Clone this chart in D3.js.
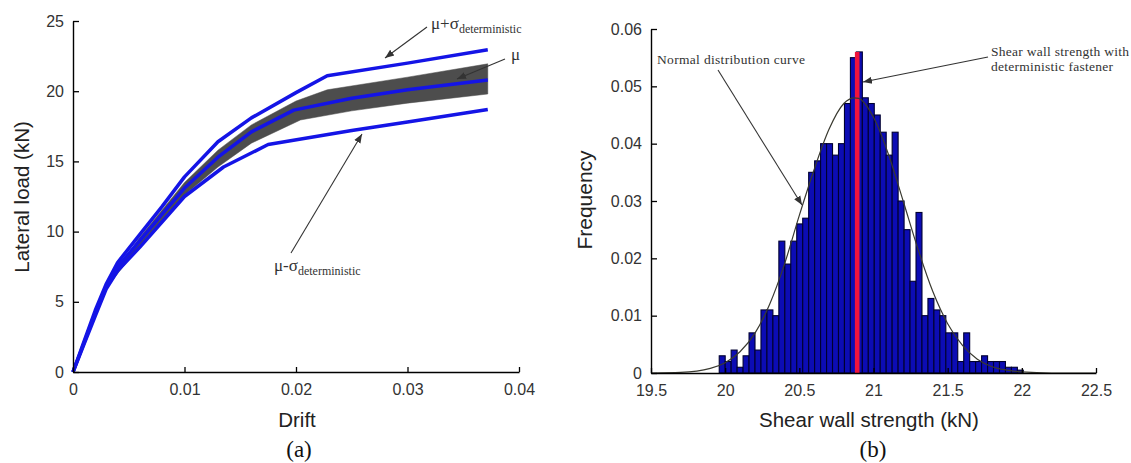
<!DOCTYPE html>
<html><head><meta charset="utf-8">
<script src="https://cdn.jsdelivr.net/npm/d3@7"></script>
<style>
body{margin:0;background:#fff}
svg{display:block}
.tick text{font-family:"Liberation Sans",Arial,sans-serif;font-size:16px;fill:#333}
.lbl{font-family:"Liberation Sans",Arial,sans-serif;font-size:20.5px;fill:#222}
.cap{font-family:"Liberation Serif","Times New Roman",serif;font-size:23px;fill:#111}
.ann{font-family:"Liberation Serif","Times New Roman",serif;fill:#333}
</style>
</head><body>
<svg id="c" width="1131" height="463"></svg>
<script>
// ---------- Panel (a): lateral load vs drift ----------
const driftTicks = [0, 0.01, 0.02, 0.03, 0.04];
const loadTicks = [0, 5, 10, 15, 20, 25];
const meanPlusSigma = [[0,0],[0.001,2.2],[0.002,4.4],[0.003,6.3],[0.004,7.8],[0.006,9.8],[0.008,11.8],[0.010,13.9],[0.013,16.4],[0.016,18.1],[0.020,19.9],[0.0228,21.1],[0.030,22.0],[0.0372,22.95]];
const meanCurve = [[0,0],[0.001,2.1],[0.002,4.2],[0.003,6.1],[0.004,7.5],[0.006,9.35],[0.008,11.25],[0.010,13.1],[0.013,15.3],[0.016,17.1],[0.0198,18.65],[0.025,19.5],[0.030,20.1],[0.0372,20.8]];
const meanMinusSigma = [[0,0],[0.001,2.0],[0.002,4.0],[0.003,5.95],[0.004,7.2],[0.006,8.9],[0.008,10.7],[0.010,12.5],[0.0135,14.6],[0.0175,16.2],[0.025,17.2],[0.030,17.8],[0.0372,18.7]];
const bandUpper = [[0,0],[0.003,6.3],[0.006,9.6],[0.010,13.5],[0.013,15.8],[0.016,17.6],[0.020,19.3],[0.0228,20.1],[0.030,21.0],[0.0372,21.95]];
const bandLower = [[0,0],[0.003,6.0],[0.006,9.0],[0.010,12.6],[0.013,14.6],[0.016,16.3],[0.0204,17.95],[0.025,18.6],[0.030,19.15],[0.0372,19.8]];

// ---------- Panel (b): histogram of shear wall strength ----------
const strengthTicks = [19.5, 20, 20.5, 21, 21.5, 22, 22.5];
const freqTicks = [0, 0.01, 0.02, 0.03, 0.04, 0.05, 0.06];
const binStart = 19.96;
const binWidth = 0.0402;
const binFreq = [0.003,0.002,0.004,0.001,0.003,0.007,0.004,0.011,0.011,0.010,
                 0.023,0.019,0.023,0.026,0.027,0.035,0.037,0.040,0.040,0.038,
                 0.040,0.047,0.055,0.056,0.048,0.047,0.045,0.042,0.038,0.042,
                 0.030,0.025,0.016,0.028,0.010,0.013,0.011,0.010,0.007,0.007,
                 0.002,0.007,0.002,0.002,0.003,0.002,0.002,0.002,0.001,0.001,0.0005];
const deterministicStrength = 20.89;
const deterministicFreq = 0.056;
const normalCurve = [[19.5,0.0000],[19.7,0.0001],[19.9,0.0008],[20.0,0.0018],[20.1,0.0037],[20.2,0.0069],[20.3,0.0120],[20.4,0.0190],[20.5,0.0275],[20.6,0.0355],[20.7,0.0425],[20.8,0.0470],[20.87,0.0480],[20.9,0.0479],[21.0,0.0446],[21.1,0.0382],[21.2,0.0300],[21.3,0.0216],[21.4,0.0142],[21.5,0.0086],[21.6,0.0048],[21.7,0.0024],[21.8,0.0011],[21.9,0.0005],[22.0,0.0002],[22.2,0.0000],[22.5,0.0000]];

const svg = d3.select("#c");
svg.append("rect").attr("width",1131).attr("height",463).attr("fill","#fff");

const defs = svg.append("defs");
defs.append("marker").attr("id","arr").attr("viewBox","0 0 10 10")
  .attr("refX",10).attr("refY",5).attr("markerWidth",9).attr("markerHeight",9)
  .attr("markerUnits","userSpaceOnUse").attr("orient","auto")
  .append("path").attr("d","M0,1 L10,5 L0,9 Z").attr("fill","#333");

// ----- panel a -----
const xA = d3.scaleLinear().domain([0,0.04]).range([73,519]);
const yA = d3.scaleLinear().domain([0,25]).range([372,21]);
const gA = svg.append("g");

const line = d3.line().x(d=>xA(d[0])).y(d=>yA(d[1]));
const poly = bandUpper.concat(bandLower.slice().reverse());
gA.append("path").attr("d", line(poly)+"Z").attr("fill","#4d4d4d").attr("stroke","#4d4d4d").attr("stroke-width",0.5);

[meanMinusSigma, meanPlusSigma, meanCurve].forEach(c=>{
  gA.append("path").attr("d", line(c)).attr("fill","none")
    .attr("stroke","#1414e6").attr("stroke-width",3.5).attr("stroke-linejoin","round");
});

const axA = gA.append("g").attr("transform",`translate(0,${yA(0)})`)
  .call(d3.axisBottom(xA).tickValues(driftTicks).tickFormat(d=>d===0?"0":d3.format(".2f")(d)).tickSizeInner(-5).tickSizeOuter(0).tickPadding(12));
const ayA = gA.append("g").attr("transform",`translate(${xA(0)},0)`)
  .call(d3.axisLeft(yA).tickValues(loadTicks).tickFormat(d3.format("d")).tickSizeInner(-6).tickSizeOuter(0).tickPadding(9));
[axA, ayA].forEach(a=>{a.selectAll("path.domain").attr("stroke","#000").attr("stroke-width",1.4);
  a.selectAll(".tick line").attr("stroke","#000").attr("stroke-width",1.3);});

gA.append("text").attr("class","lbl").attr("x",297).attr("y",427).attr("text-anchor","middle").text("Drift");
gA.append("text").attr("class","lbl").attr("transform","translate(29,197) rotate(-90)").attr("text-anchor","middle").text("Lateral load (kN)");
gA.append("text").attr("class","cap").attr("x",299).attr("y",457).attr("text-anchor","middle").text("(a)");

function annSigma(g,x,y,main){
  const t = g.append("text").attr("class","ann").attr("x",x).attr("y",y).style("font-size","17px");
  t.append("tspan").text(main);
  t.append("tspan").attr("dy",4).style("font-size","12px").text("deterministic");
}
annSigma(gA,431,29,"μ+σ");
annSigma(gA,274,271,"μ-σ");
gA.append("text").attr("class","ann").attr("x",511).attr("y",60).style("font-size","17px").text("μ");
function arrow(g,x1,y1,x2,y2){
  g.append("line").attr("x1",x1).attr("y1",y1).attr("x2",x2).attr("y2",y2)
   .attr("stroke","#333").attr("stroke-width",1.1).attr("marker-end","url(#arr)");
}
arrow(gA,427,27,385,58);
arrow(gA,505,59,457,79);
arrow(gA,291,253,362,134);

// ----- panel b -----
const xB = d3.scaleLinear().domain([19.5,22.5]).range([651,1096]);
const yB = d3.scaleLinear().domain([0,0.06]).range([373,29]);
const gB = svg.append("g");

gB.selectAll("rect.bin").data(binFreq).join("rect").attr("class","bin")
  .attr("x",(d,i)=>xB(binStart+i*binWidth))
  .attr("width",(d,i)=>xB(binStart+(i+1)*binWidth)-xB(binStart+i*binWidth))
  .attr("y",d=>yB(d)).attr("height",d=>yB(0)-yB(d))
  .attr("fill","#0c0cb4").attr("stroke","#000030").attr("stroke-width",1.1);

gB.append("rect").attr("x",xB(deterministicStrength)-2.3).attr("width",4.6)
  .attr("y",yB(deterministicFreq)).attr("height",yB(0)-yB(deterministicFreq)).attr("fill","#f0143c");

const lineB = d3.line().x(d=>xB(d[0])).y(d=>yB(d[1])).curve(d3.curveMonotoneX);
gB.append("path").attr("d",lineB(normalCurve)).attr("fill","none").attr("stroke","#3a3a30").attr("stroke-width",1.2);

const axB = gB.append("g").attr("transform",`translate(0,${yB(0)})`)
  .call(d3.axisBottom(xB).tickValues(strengthTicks).tickFormat(d=>String(d)).tickSizeInner(-5).tickSizeOuter(0).tickPadding(12));
const ayB = gB.append("g").attr("transform",`translate(${xB(19.5)},0)`)
  .call(d3.axisLeft(yB).tickValues(freqTicks).tickFormat(d=>d===0?"0":d3.format(".2f")(d)).tickSizeInner(-6).tickSizeOuter(0).tickPadding(9));
[axB, ayB].forEach(a=>{a.selectAll("path.domain").attr("stroke","#000").attr("stroke-width",1.4);
  a.selectAll(".tick line").attr("stroke","#000").attr("stroke-width",1.3);});

gB.append("text").attr("class","lbl").attr("x",869).attr("y",427).attr("text-anchor","middle").text("Shear wall strength (kN)");
gB.append("text").attr("class","lbl").attr("transform","translate(592,200) rotate(-90)").attr("text-anchor","middle").style("font-size","21px").text("Frequency");
gB.append("text").attr("class","cap").attr("x",873).attr("y",457).attr("text-anchor","middle").text("(b)");

gB.append("text").attr("class","ann").attr("x",657).attr("y",64).style("font-size","13.5px").attr("textLength",148).text("Normal distribution curve");
gB.append("text").attr("class","ann").attr("x",991).attr("y",56).style("font-size","13.5px").attr("textLength",138).text("Shear wall strength with");
gB.append("text").attr("class","ann").attr("x",991).attr("y",71).style("font-size","13.5px").attr("textLength",122).text("deterministic fastener");
arrow(gB,718,70,802,205);
arrow(gB,988,57,863,82);
</script>
</body></html>
